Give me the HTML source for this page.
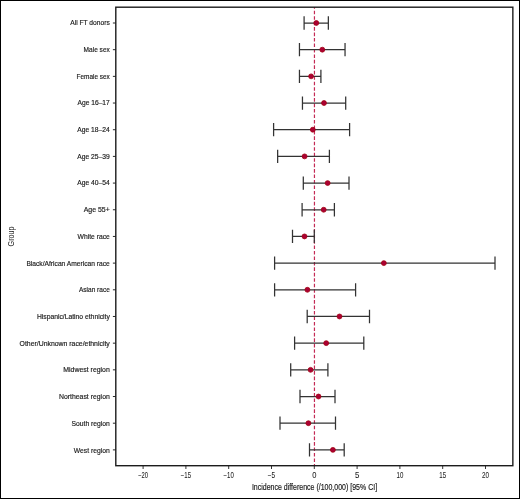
<!DOCTYPE html><html><head><meta charset="utf-8"><style>html,body{margin:0;padding:0;background:#fff;}svg{display:block;}text{font-family:"Liberation Sans",Arial,sans-serif;fill:#1a1a1a;stroke:#1a1a1a;stroke-width:0.18px;}</style></head><body>
<svg width="520" height="499" viewBox="0 0 520 499">
<rect x="0" y="0" width="520" height="499" fill="#fff"/>
<text x="70.20" y="25.20" font-size="7.8" textLength="39.60" lengthAdjust="spacingAndGlyphs">All FT donors</text>
<line x1="112.9" y1="23.00" x2="115.80" y2="23.00" stroke="#1c1c1c" stroke-width="0.95"/>
<text x="83.60" y="51.91" font-size="7.8" textLength="26.20" lengthAdjust="spacingAndGlyphs">Male sex</text>
<line x1="112.9" y1="49.68" x2="115.80" y2="49.68" stroke="#1c1c1c" stroke-width="0.95"/>
<text x="76.50" y="78.61" font-size="7.8" textLength="33.30" lengthAdjust="spacingAndGlyphs">Female sex</text>
<line x1="112.9" y1="76.36" x2="115.80" y2="76.36" stroke="#1c1c1c" stroke-width="0.95"/>
<text x="77.50" y="105.32" font-size="7.8" textLength="32.30" lengthAdjust="spacingAndGlyphs">Age 16–17</text>
<line x1="112.9" y1="103.04" x2="115.80" y2="103.04" stroke="#1c1c1c" stroke-width="0.95"/>
<text x="77.30" y="132.03" font-size="7.8" textLength="32.50" lengthAdjust="spacingAndGlyphs">Age 18–24</text>
<line x1="112.9" y1="129.72" x2="115.80" y2="129.72" stroke="#1c1c1c" stroke-width="0.95"/>
<text x="77.30" y="158.73" font-size="7.8" textLength="32.50" lengthAdjust="spacingAndGlyphs">Age 25–39</text>
<line x1="112.9" y1="156.40" x2="115.80" y2="156.40" stroke="#1c1c1c" stroke-width="0.95"/>
<text x="77.30" y="185.44" font-size="7.8" textLength="32.50" lengthAdjust="spacingAndGlyphs">Age 40–54</text>
<line x1="112.9" y1="183.08" x2="115.80" y2="183.08" stroke="#1c1c1c" stroke-width="0.95"/>
<text x="83.65" y="212.15" font-size="7.8" textLength="26.15" lengthAdjust="spacingAndGlyphs">Age 55+</text>
<line x1="112.9" y1="209.76" x2="115.80" y2="209.76" stroke="#1c1c1c" stroke-width="0.95"/>
<text x="77.50" y="238.86" font-size="7.8" textLength="32.30" lengthAdjust="spacingAndGlyphs">White race</text>
<line x1="112.9" y1="236.44" x2="115.80" y2="236.44" stroke="#1c1c1c" stroke-width="0.95"/>
<text x="26.40" y="265.56" font-size="7.8" textLength="83.40" lengthAdjust="spacingAndGlyphs">Black/African American race</text>
<line x1="112.9" y1="263.12" x2="115.80" y2="263.12" stroke="#1c1c1c" stroke-width="0.95"/>
<text x="79.00" y="292.27" font-size="7.8" textLength="30.80" lengthAdjust="spacingAndGlyphs">Asian race</text>
<line x1="112.9" y1="289.80" x2="115.80" y2="289.80" stroke="#1c1c1c" stroke-width="0.95"/>
<text x="36.90" y="318.98" font-size="7.8" textLength="72.90" lengthAdjust="spacingAndGlyphs">Hispanic/Latino ethnicity</text>
<line x1="112.9" y1="316.48" x2="115.80" y2="316.48" stroke="#1c1c1c" stroke-width="0.95"/>
<text x="19.60" y="345.68" font-size="7.8" textLength="90.20" lengthAdjust="spacingAndGlyphs">Other/Unknown race/ethnicity</text>
<line x1="112.9" y1="343.16" x2="115.80" y2="343.16" stroke="#1c1c1c" stroke-width="0.95"/>
<text x="63.30" y="372.39" font-size="7.8" textLength="46.50" lengthAdjust="spacingAndGlyphs">Midwest region</text>
<line x1="112.9" y1="369.84" x2="115.80" y2="369.84" stroke="#1c1c1c" stroke-width="0.95"/>
<text x="59.00" y="399.10" font-size="7.8" textLength="50.80" lengthAdjust="spacingAndGlyphs">Northeast region</text>
<line x1="112.9" y1="396.52" x2="115.80" y2="396.52" stroke="#1c1c1c" stroke-width="0.95"/>
<text x="71.50" y="425.80" font-size="7.8" textLength="38.30" lengthAdjust="spacingAndGlyphs">South region</text>
<line x1="112.9" y1="423.20" x2="115.80" y2="423.20" stroke="#1c1c1c" stroke-width="0.95"/>
<text x="73.80" y="452.51" font-size="7.8" textLength="36.00" lengthAdjust="spacingAndGlyphs">West region</text>
<line x1="112.9" y1="449.88" x2="115.80" y2="449.88" stroke="#1c1c1c" stroke-width="0.95"/>
<line x1="143.10" y1="465.70" x2="143.10" y2="469" stroke="#1c1c1c" stroke-width="0.9"/>
<text x="143.10" y="477.6" font-size="8.4" text-anchor="middle" textLength="9.9" lengthAdjust="spacingAndGlyphs" style="stroke-width:0.05px">−20</text>
<line x1="185.90" y1="465.70" x2="185.90" y2="469" stroke="#1c1c1c" stroke-width="0.9"/>
<text x="185.90" y="477.6" font-size="8.4" text-anchor="middle" textLength="10.2" lengthAdjust="spacingAndGlyphs" style="stroke-width:0.05px">−15</text>
<line x1="228.70" y1="465.70" x2="228.70" y2="469" stroke="#1c1c1c" stroke-width="0.9"/>
<text x="228.70" y="477.6" font-size="8.4" text-anchor="middle" textLength="10.2" lengthAdjust="spacingAndGlyphs" style="stroke-width:0.05px">−10</text>
<line x1="271.50" y1="465.70" x2="271.50" y2="469" stroke="#1c1c1c" stroke-width="0.9"/>
<text x="271.50" y="477.6" font-size="8.4" text-anchor="middle" textLength="7.4" lengthAdjust="spacingAndGlyphs" style="stroke-width:0.05px">−5</text>
<line x1="314.30" y1="465.70" x2="314.30" y2="469" stroke="#1c1c1c" stroke-width="0.9"/>
<text x="314.30" y="477.6" font-size="8.4" text-anchor="middle" textLength="4.2" lengthAdjust="spacingAndGlyphs" style="stroke-width:0.05px">0</text>
<line x1="357.10" y1="465.70" x2="357.10" y2="469" stroke="#1c1c1c" stroke-width="0.9"/>
<text x="357.10" y="477.6" font-size="8.4" text-anchor="middle" textLength="4.4" lengthAdjust="spacingAndGlyphs" style="stroke-width:0.05px">5</text>
<line x1="399.90" y1="465.70" x2="399.90" y2="469" stroke="#1c1c1c" stroke-width="0.9"/>
<text x="399.90" y="477.6" font-size="8.4" text-anchor="middle" textLength="6.8" lengthAdjust="spacingAndGlyphs" style="stroke-width:0.05px">10</text>
<line x1="442.70" y1="465.70" x2="442.70" y2="469" stroke="#1c1c1c" stroke-width="0.9"/>
<text x="442.70" y="477.6" font-size="8.4" text-anchor="middle" textLength="6.8" lengthAdjust="spacingAndGlyphs" style="stroke-width:0.05px">15</text>
<line x1="485.50" y1="465.70" x2="485.50" y2="469" stroke="#1c1c1c" stroke-width="0.9"/>
<text x="485.50" y="477.6" font-size="8.4" text-anchor="middle" textLength="7.0" lengthAdjust="spacingAndGlyphs" style="stroke-width:0.05px">20</text>
<line x1="314.45" y1="7.20" x2="314.45" y2="465.70" stroke="#c42a55" stroke-width="1.2" stroke-dasharray="3.6 1.86" stroke-dashoffset="1.94"/>
<path d="M304.10 23.00H328.35M304.10 16.35V29.65M328.35 16.35V29.65" stroke="#333333" stroke-width="1.25" fill="none"/>
<circle cx="316.30" cy="23.00" r="2.45" fill="#ab0034" stroke="#a2000f" stroke-width="0.8"/>
<path d="M299.46 49.68H345.04M299.46 43.03V56.33M345.04 43.03V56.33" stroke="#333333" stroke-width="1.25" fill="none"/>
<circle cx="322.30" cy="49.68" r="2.45" fill="#ab0034" stroke="#a2000f" stroke-width="0.8"/>
<path d="M299.46 76.36H320.90M299.46 69.71V83.01M320.90 69.71V83.01" stroke="#333333" stroke-width="1.25" fill="none"/>
<circle cx="311.10" cy="76.36" r="2.45" fill="#ab0034" stroke="#a2000f" stroke-width="0.8"/>
<path d="M302.46 103.04H345.70M302.46 96.39V109.69M345.70 96.39V109.69" stroke="#333333" stroke-width="1.25" fill="none"/>
<circle cx="324.00" cy="103.04" r="2.45" fill="#ab0034" stroke="#a2000f" stroke-width="0.8"/>
<path d="M273.60 129.72H349.60M273.60 123.07V136.37M349.60 123.07V136.37" stroke="#333333" stroke-width="1.25" fill="none"/>
<circle cx="312.80" cy="129.72" r="2.45" fill="#ab0034" stroke="#a2000f" stroke-width="0.8"/>
<path d="M277.65 156.40H329.40M277.65 149.75V163.05M329.40 149.75V163.05" stroke="#333333" stroke-width="1.25" fill="none"/>
<circle cx="304.60" cy="156.40" r="2.45" fill="#ab0034" stroke="#a2000f" stroke-width="0.8"/>
<path d="M303.30 183.08H349.00M303.30 176.43V189.73M349.00 176.43V189.73" stroke="#333333" stroke-width="1.25" fill="none"/>
<circle cx="327.65" cy="183.08" r="2.45" fill="#ab0034" stroke="#a2000f" stroke-width="0.8"/>
<path d="M302.10 209.76H334.40M302.10 203.11V216.41M334.40 203.11V216.41" stroke="#333333" stroke-width="1.25" fill="none"/>
<circle cx="323.70" cy="209.76" r="2.45" fill="#ab0034" stroke="#a2000f" stroke-width="0.8"/>
<path d="M292.50 236.44H314.30M292.50 229.79V243.09M314.30 229.79V243.09" stroke="#333333" stroke-width="1.25" fill="none"/>
<circle cx="304.50" cy="236.44" r="2.45" fill="#ab0034" stroke="#a2000f" stroke-width="0.8"/>
<path d="M274.60 263.12H495.00M274.60 256.47V269.77M495.00 256.47V269.77" stroke="#333333" stroke-width="1.25" fill="none"/>
<circle cx="383.85" cy="263.12" r="2.45" fill="#ab0034" stroke="#a2000f" stroke-width="0.8"/>
<path d="M274.60 289.80H355.60M274.60 283.15V296.45M355.60 283.15V296.45" stroke="#333333" stroke-width="1.25" fill="none"/>
<circle cx="307.40" cy="289.80" r="2.45" fill="#ab0034" stroke="#a2000f" stroke-width="0.8"/>
<path d="M307.20 316.48H369.50M307.20 309.83V323.13M369.50 309.83V323.13" stroke="#333333" stroke-width="1.25" fill="none"/>
<circle cx="339.50" cy="316.48" r="2.45" fill="#ab0034" stroke="#a2000f" stroke-width="0.8"/>
<path d="M294.60 343.16H363.80M294.60 336.51V349.81M363.80 336.51V349.81" stroke="#333333" stroke-width="1.25" fill="none"/>
<circle cx="326.20" cy="343.16" r="2.45" fill="#ab0034" stroke="#a2000f" stroke-width="0.8"/>
<path d="M290.70 369.84H327.90M290.70 363.19V376.49M327.90 363.19V376.49" stroke="#333333" stroke-width="1.25" fill="none"/>
<circle cx="310.60" cy="369.84" r="2.45" fill="#ab0034" stroke="#a2000f" stroke-width="0.8"/>
<path d="M300.00 396.52H335.00M300.00 389.87V403.17M335.00 389.87V403.17" stroke="#333333" stroke-width="1.25" fill="none"/>
<circle cx="318.50" cy="396.52" r="2.45" fill="#ab0034" stroke="#a2000f" stroke-width="0.8"/>
<path d="M280.00 423.20H335.50M280.00 416.55V429.85M335.50 416.55V429.85" stroke="#333333" stroke-width="1.25" fill="none"/>
<circle cx="308.40" cy="423.20" r="2.45" fill="#ab0034" stroke="#a2000f" stroke-width="0.8"/>
<path d="M309.50 449.88H344.20M309.50 443.23V456.53M344.20 443.23V456.53" stroke="#333333" stroke-width="1.25" fill="none"/>
<circle cx="332.90" cy="449.88" r="2.45" fill="#ab0034" stroke="#a2000f" stroke-width="0.8"/>
<rect x="115.80" y="7.20" width="397.05" height="458.50" fill="none" stroke="#1c1c1c" stroke-width="1.4"/>
<text x="314.5" y="489.75" font-size="9.1" text-anchor="middle" textLength="125.2" lengthAdjust="spacingAndGlyphs">Incidence difference (/100,000) [95% CI]</text>
<text transform="translate(14.4 236.5) rotate(-90)" x="0" y="0" font-size="8.8" text-anchor="middle" textLength="19.8" lengthAdjust="spacingAndGlyphs" style="stroke-width:0">Group</text>
<rect x="0.5" y="0.5" width="519" height="498" fill="none" stroke="#000" stroke-width="1"/>
</svg></body></html>
